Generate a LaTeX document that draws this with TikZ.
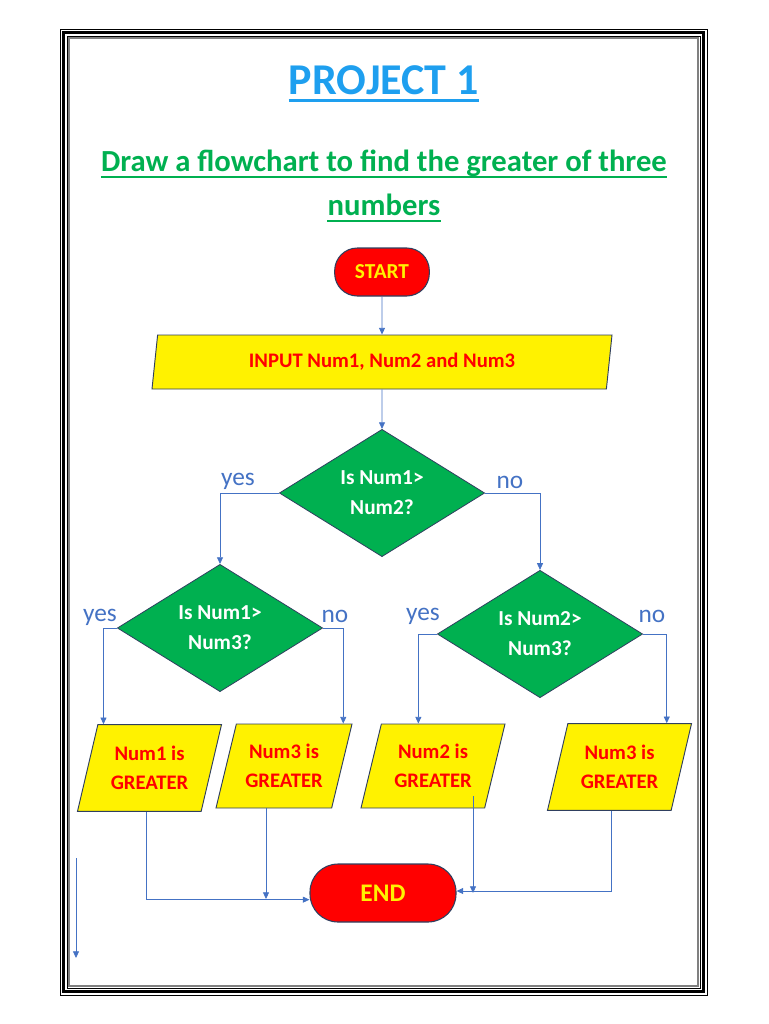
\documentclass[tikz,border=0pt]{standalone}
\usepackage{fontspec}
\setmainfont{Carlito}
\usepackage{xcolor}
\usetikzlibrary{shapes.geometric, arrows.meta, positioning, calc}

\definecolor{flowblue}{HTML}{4472C4}
\definecolor{titleblue}{HTML}{1E9FEF}
\definecolor{headgreen}{HTML}{00B050}
\definecolor{edgeblue}{HTML}{2F3F5F}

\begin{document}
\begin{tikzpicture}[x=0.75pt, y=-0.75pt,
  terminal/.style={rectangle, draw=edgeblue, fill=red, text=yellow,
    inner sep=0pt, line width=0.8pt, font=\bfseries},
  io/.style={trapezium, trapezium stretches body, draw=edgeblue,
    fill=yellow, text=red, align=center, inner sep=0pt,
    line width=0.7pt, font=\fontsize{15.5}{21.75}\selectfont\bfseries},
  result/.style={io, trapezium left angle=65, trapezium right angle=115,
    minimum height=65pt},
  decision/.style={diamond, draw=edgeblue, fill=headgreen, text=white,
    align=center, inner sep=0pt, line width=0.6pt,
    minimum width=154pt, minimum height=93pt,
    font=\fontsize{16}{22.5}\selectfont\bfseries},
  answer/.style={text=flowblue, inner sep=0pt, font=\fontsize{19}{22}\selectfont},
  arrow/.style={-{Triangle[length=5pt, width=4.5pt]}, draw=flowblue, line width=0.6pt}
]
\useasboundingbox (0,0) rectangle (768,1024);

% page frame
\draw[line width=0.6pt] (60,29) rectangle (707,995);
\draw[line width=2.5pt] (63.5,32.5) rectangle (703.5,991.5);
\draw[line width=0.6pt] (67,36) rectangle (700,988);
\draw[gray, line width=0.8pt] (69,38) rectangle (698,986);

% headings
\node (title) at (384,80) [inner sep=0pt, text=titleblue,
  font=\fontsize{33}{36}\selectfont\bfseries] {PROJECT 1};
\draw[titleblue, line width=2.2pt]
  ([yshift=-5pt]title.base west) -- ([yshift=-5pt]title.base east);
\node (task) at (384,163) [inner sep=0pt, text=headgreen,
  font=\fontsize{23}{28}\selectfont\bfseries] {Draw a flowchart to find the greater of three};
\node (taskend) at (384,205) [inner sep=0pt, text=headgreen,
  font=\fontsize{23}{28}\selectfont\bfseries] {numbers};
\draw[headgreen, line width=1.5pt]
  ([yshift=-4pt]task.base west) -- ([yshift=-4pt]task.base east);
\draw[headgreen, line width=1.5pt]
  ([yshift=-4pt]taskend.base west) -- ([yshift=-4pt]taskend.base east);

% flowchart
\node (start) at (382,272) [terminal, minimum width=71pt, minimum height=36pt,
  rounded corners=17pt, font=\fontsize{16}{18}\selectfont\bfseries] {START};
\node (input) at (382,362) [io, trapezium left angle=72, trapezium right angle=108,
  minimum width=345pt, minimum height=40.5pt] {INPUT Num1, Num2 and Num3};

\node (cmp12) at (382,493) [decision] {Is Num1>\\Num2?};
\node (cmp13) at (220,628) [decision] {Is Num1>\\Num3?};
\node (cmp23) at (540,634) [decision] {Is Num2>\\Num3?};

\node (yesA) at (238,481) [answer] {yes};
\node (noA)  at (510,482) [answer] {no};
\node (yesB) at (100,617) [answer] {yes};
\node (noB)  at (335,616) [answer] {no};
\node (yesC) at (423,616) [answer] {yes};
\node (noC)  at (652,616) [answer] {no};

\node (big1)  at (149.5,768) [result, minimum width=108pt] {Num1 is\\GREATER};
\node (big3a) at (284,766)   [result, minimum width=102pt, minimum height=63pt] {Num3 is\\GREATER};
\node (big2)  at (433,766)   [result, minimum width=108pt, minimum height=63pt] {Num2 is\\GREATER};
\node (big3b) at (619.5,767) [result, minimum width=108pt] {Num3 is\\GREATER};

\node (end) at (383,893) [terminal, minimum width=109.5pt, minimum height=43.5pt,
  rounded corners=21pt, font=\fontsize{19}{22}\selectfont\bfseries] {END};

\coordinate (loose top) at (76,858);
\coordinate (loose bot) at (76,958);

% connectors
\draw[arrow] (start) -- (input);
\draw[arrow] (input) -- (cmp12);
\draw[arrow] (cmp12.west) -| (cmp13.north);
\draw[arrow] (cmp12.east) -| (cmp23.north);
\draw[arrow] (cmp13.west) -| ([xshift=4.5pt]big1.top left corner);
\draw[arrow] (cmp13.east) -| ([xshift=-7pt]big3a.top right corner);
\draw[arrow] (cmp23.west) -| ([xshift=-11pt]big2.north);
\draw[arrow] (cmp23.east) -| ([xshift=-19pt]big3b.top right corner);

\draw[arrow] ([xshift=-2pt]big1.south) |- ([yshift=-5pt]end.west);
\draw[arrow] ([xshift=-13.5pt]big3a.south) -- ([xshift=-13.5pt,yshift=-4.5pt]big3a.south |- end.west);
\draw[arrow] ([xshift=30pt,yshift=9pt]big2.south) -- ([xshift=30pt]big2.south |- end.east);
\draw[arrow] ([xshift=-6pt]big3b.south) |- ([yshift=1.5pt]end.east);
\draw[arrow] (loose top) -- (loose bot);

\end{tikzpicture}
\end{document}
